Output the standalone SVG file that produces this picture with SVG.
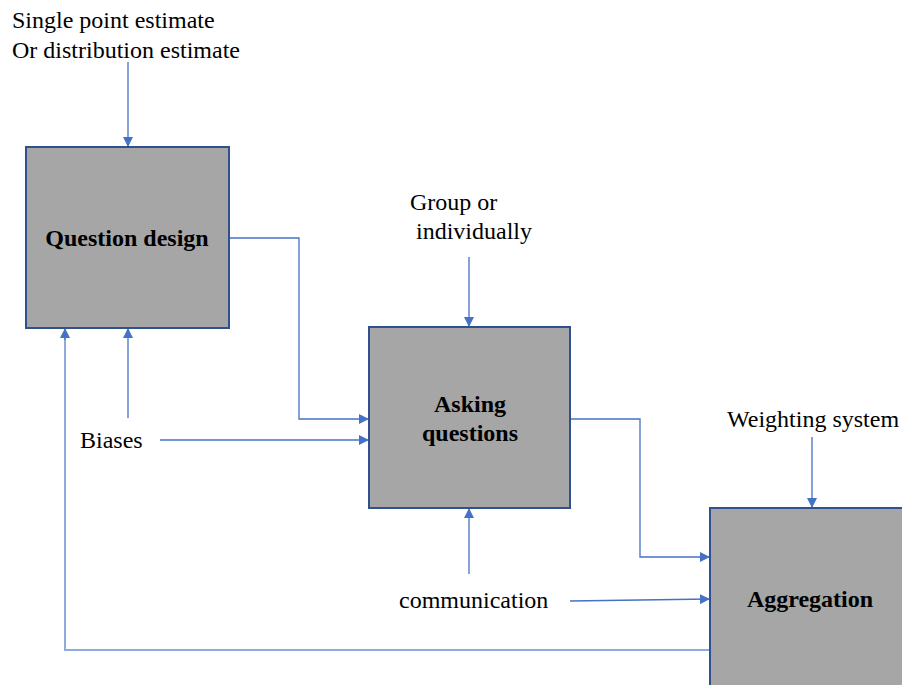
<svg xmlns="http://www.w3.org/2000/svg" width="902" height="685" viewBox="0 0 902 685">
<defs>
<marker id="ah" viewBox="0 0 10 10" refX="10" refY="5" markerWidth="10" markerHeight="10" markerUnits="userSpaceOnUse" orient="auto">
<path d="M0,0 L10,5 L0,10 Z" fill="#4472C4"/>
</marker>
</defs>
<rect width="902" height="685" fill="#fff"/>
<g id="connectors" fill="none" stroke="#4472C4" stroke-width="1.3">
<path d="M128,62 V147" marker-end="url(#ah)"/>
<path d="M229,238 H299 V419 H369" marker-end="url(#ah)"/>
<path d="M160,440 H369" marker-end="url(#ah)"/>
<path d="M128,418 V328" marker-end="url(#ah)"/>
<path d="M710,650 H65 V338" stroke="#8FAADC" stroke-width="2"/>
<path d="M65,340 V328" marker-end="url(#ah)"/>
<path d="M469,257 V327" marker-end="url(#ah)"/>
<path d="M570,419 H640 V557 H710" marker-end="url(#ah)"/>
<path d="M812,437 V508" marker-end="url(#ah)"/>
<path d="M570,601 L710,599" marker-end="url(#ah)"/>
<path d="M469,574 V508" marker-end="url(#ah)"/>
</g>
<g id="question-design">
<rect x="26" y="147" width="203" height="181" fill="#A6A6A6" stroke="#2F528F" stroke-width="2"/>
<text x="127" y="246" font-size="24" font-weight="bold" text-anchor="middle" font-family="Liberation Serif">Question design</text>
</g>
<g id="asking-questions">
<rect x="369" y="327" width="201" height="181" fill="#A6A6A6" stroke="#2F528F" stroke-width="2"/>
<text x="470" y="412" font-size="24" font-weight="bold" text-anchor="middle" font-family="Liberation Serif">Asking</text>
<text x="470" y="441" font-size="24" font-weight="bold" text-anchor="middle" font-family="Liberation Serif">questions</text>
</g>
<g id="aggregation">
<rect x="710" y="508" width="220" height="200" fill="#A6A6A6" stroke="#2F528F" stroke-width="2"/>
<text x="810" y="607" font-size="24" font-weight="bold" text-anchor="middle" font-family="Liberation Serif">Aggregation</text>
</g>
<g id="labels">
<text x="12" y="28" font-size="24" font-family="Liberation Serif">Single point estimate</text>
<text x="12" y="58" font-size="24" font-family="Liberation Serif">Or distribution estimate</text>
<text x="410" y="210" font-size="24" font-family="Liberation Serif">Group or</text>
<text x="416" y="239" font-size="24" font-family="Liberation Serif">individually</text>
<text x="727" y="427" font-size="24" font-family="Liberation Serif">Weighting system</text>
<text x="80" y="448" font-size="24" font-family="Liberation Serif">Biases</text>
<text x="399" y="608" font-size="24" font-family="Liberation Serif">communication</text>
</g>
</svg>
